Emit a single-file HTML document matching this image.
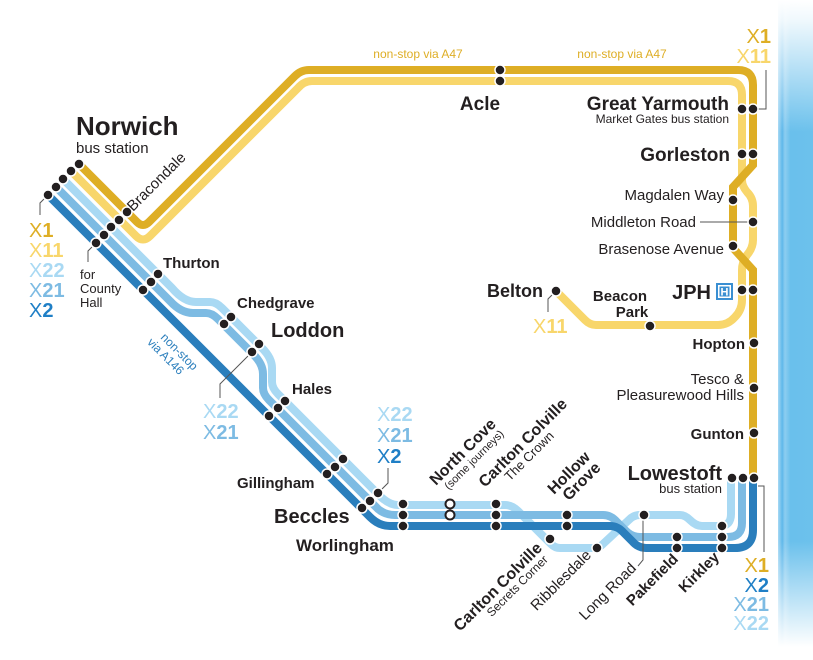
<!DOCTYPE html>
<html><head><meta charset="utf-8"><style>
html,body{margin:0;padding:0;background:#fff;}
svg{display:block;font-family:"Liberation Sans",sans-serif;}
.b{font-weight:bold;fill:#231f20}
.r{fill:#231f20}
</style></head><body>
<svg width="813" height="660" viewBox="0 0 813 660" xmlns="http://www.w3.org/2000/svg">
<defs>
<linearGradient id="sv" x1="0" y1="0" x2="0" y2="1">
<stop offset="0" stop-color="#fff" stop-opacity="1"/>
<stop offset="0.03" stop-color="#fff" stop-opacity="0.9"/>
<stop offset="0.2" stop-color="#fff" stop-opacity="0"/>
<stop offset="0.82" stop-color="#fff" stop-opacity="0"/>
<stop offset="0.98" stop-color="#fff" stop-opacity="1"/>
</linearGradient>
<linearGradient id="sh" x1="0" y1="0" x2="1" y2="0">
<stop offset="0" stop-color="#a8d9f4"/>
<stop offset="0.12" stop-color="#5fb8ea"/>
<stop offset="0.2" stop-color="#8ccdf0"/>
<stop offset="0.35" stop-color="#6ac0ec"/>
<stop offset="1" stop-color="#6cc1ec"/>
</linearGradient>
</defs>
<rect x="778" y="0" width="35" height="660" fill="url(#sh)"/>
<rect x="778" y="0" width="35" height="660" fill="url(#sv)"/>

<g fill="none" stroke-width="8" stroke-linecap="round">
<path stroke="#f8d66b" d="M71,171 L136,236 Q143,243 150,236 L298,88 Q304,81 312,81 L728,81 Q742,81 742,95 L742,180 Q742,186 747,192 Q753,198 753,206 L753,240 Q753,248 747,255 Q742,262 742,270 L742,300 Q742,310 735,317 Q728,325 718,325 L596,325 Q590,325 585,320 L556,291"/>
<path stroke="#deae25" d="M79,164 L137,222 Q143,228 149,222 L295,76 Q301,70 309,70 L738,70 Q753,70 753,85 L753,165 L733,187 L733,248 L753,270 L753,478"/>
<path stroke="#a9d9f3" d="M63,179 L172,288 Q184,302 196,302 L210,302 Q216,302 222,308 L262,348 Q272,358 272,368 L272,382 Q272,388 278,394 L380,496 Q389,505 398,505 L505,505 Q512,505 518,511 L551,544 Q555,548 560,548 L594,548 Q599,548 603,544 L631,518 Q635,515 640,515 L680,515 Q685,515 690,520 Q696,526 702,526 L720,526 Q731,526 731,514 L731,478"/>
<path stroke="#7dbbe3" d="M56,187 L170,301 Q181,313 193,313 L206,313 Q212,313 218,319 L253,354 Q263,364 263,374 L263,388 Q263,394 269,400 L378,509 Q385,515 395,515 L603,515 Q611,515 617,522 L626,531 Q632,537 640,537 L728,537 Q742,537 742,523 L742,478"/>
<path stroke="#2a7ebc" d="M48,195 L370,517 Q379,526 390,526 L610,526 Q618,526 624,533 L632,541 Q638,548 646,548 L735,548 Q753,548 753,530 L753,478"/>
</g>

<g stroke="#555" stroke-width="1" fill="none">
<path d="M758,109 L766,109 L766,70"/>
<path d="M758,486 L764,486 L764,552"/>
<path d="M48,195 L40,203 L40,215"/>
<path d="M96,243 L88,251 L88,262"/>
<path d="M556,291 L548,299 L548,312"/>
<path d="M252,352 L220,384 L220,398"/>
<path d="M378,493 L388,483 L388,468"/>
<path d="M700,222 L748,222"/>
<path d="M643,516 L643,560 L638,566"/>
</g>

<g fill="#231f20" stroke="#fff" stroke-width="1.5">
<circle cx="500" cy="70" r="5"/><circle cx="500" cy="81" r="5"/>
<circle cx="742" cy="109" r="5"/><circle cx="753" cy="109" r="5"/>
<circle cx="742" cy="154" r="5"/><circle cx="753" cy="154" r="5"/>
<circle cx="733" cy="200" r="5"/><circle cx="753" cy="222" r="5"/><circle cx="733" cy="246" r="5"/>
<circle cx="742" cy="290" r="5"/><circle cx="753" cy="290" r="5"/>
<circle cx="754" cy="343" r="5"/><circle cx="754" cy="388" r="5"/><circle cx="754" cy="433" r="5"/>
<circle cx="732" cy="478" r="5"/><circle cx="743" cy="478" r="5"/><circle cx="754" cy="478" r="5"/>
<circle cx="556" cy="291" r="5"/><circle cx="650" cy="326" r="5"/>
<circle cx="79" cy="164" r="5"/><circle cx="71" cy="171" r="5"/><circle cx="63" cy="179" r="5"/><circle cx="56" cy="187" r="5"/><circle cx="48" cy="195" r="5"/>
<circle cx="127" cy="212" r="5"/><circle cx="119" cy="220" r="5"/>
<circle cx="111" cy="227" r="5"/><circle cx="104" cy="235" r="5"/><circle cx="96" cy="243" r="5"/>
<circle cx="158" cy="274" r="5"/><circle cx="151" cy="282" r="5"/><circle cx="143" cy="290" r="5"/>
<circle cx="231" cy="317" r="5"/><circle cx="224" cy="324" r="5"/>
<circle cx="259" cy="344" r="5"/><circle cx="252" cy="352" r="5"/>
<circle cx="285" cy="401" r="5"/><circle cx="278" cy="408" r="5"/><circle cx="269" cy="416" r="5"/>
<circle cx="343" cy="459" r="5"/><circle cx="335" cy="467" r="5"/><circle cx="327" cy="474" r="5"/>
<circle cx="378" cy="493" r="5"/><circle cx="370" cy="501" r="5"/><circle cx="362" cy="508" r="5"/>
<circle cx="403" cy="504" r="5"/><circle cx="403" cy="515" r="5"/><circle cx="403" cy="526" r="5"/>
<circle cx="496" cy="504" r="5"/><circle cx="496" cy="515" r="5"/><circle cx="496" cy="526" r="5"/>
<circle cx="550" cy="539" r="5"/><circle cx="567" cy="515" r="5"/><circle cx="567" cy="526" r="5"/>
<circle cx="597" cy="548" r="5"/><circle cx="644" cy="515" r="5"/>
<circle cx="677" cy="537" r="5"/><circle cx="677" cy="548" r="5"/>
<circle cx="722" cy="526" r="5"/><circle cx="722" cy="537" r="5"/><circle cx="722" cy="548" r="5"/>
</g>
<g fill="#fff" stroke="#231f20" stroke-width="2">
<circle cx="450" cy="504" r="4.5"/><circle cx="450" cy="515" r="4.5"/>
</g>

<text x="418" y="58" font-size="12" fill="#deae25" text-anchor="middle">non-stop via A47</text>
<text x="622" y="58" font-size="12" fill="#deae25" text-anchor="middle">non-stop via A47</text>
<text x="480" y="110" font-size="19" class="b" text-anchor="middle">Acle</text>
<text x="729" y="110" font-size="19" class="b" text-anchor="end">Great Yarmouth</text>
<text x="729" y="123" font-size="12" class="r" text-anchor="end">Market Gates bus station</text>
<text x="730" y="161" font-size="19" class="b" text-anchor="end">Gorleston</text>
<text x="724" y="200" font-size="15" class="r" text-anchor="end">Magdalen Way</text>
<text x="696" y="227" font-size="15" class="r" text-anchor="end">Middleton Road</text>
<text x="724" y="254" font-size="15" class="r" text-anchor="end">Brasenose Avenue</text>
<text x="711" y="299" font-size="20" class="b" text-anchor="end">JPH</text>
<rect x="716" y="283" width="17" height="17" fill="#3a8fd2"/>
<rect x="718" y="285" width="13" height="13" fill="#fff"/>
<rect x="719.5" y="286.5" width="10" height="10" fill="#3a8fd2"/>
<text x="724.5" y="295.5" font-size="11" font-weight="bold" fill="#fff" text-anchor="middle">H</text>
<text x="543" y="297" font-size="18" class="b" text-anchor="end">Belton</text>
<text x="620" y="301" font-size="15" class="b" text-anchor="middle">Beacon</text>
<text x="632" y="317" font-size="15" class="b" text-anchor="middle">Park</text>
<text x="745" y="349" font-size="15" class="b" text-anchor="end">Hopton</text>
<text x="744" y="384" font-size="15" class="r" text-anchor="end">Tesco &amp;</text>
<text x="744" y="400" font-size="15" class="r" text-anchor="end">Pleasurewood Hills</text>
<text x="744" y="439" font-size="15" class="b" text-anchor="end">Gunton</text>
<text x="722" y="480" font-size="20" class="b" text-anchor="end">Lowestoft</text>
<text x="722" y="493" font-size="13" class="r" text-anchor="end">bus station</text>

<text x="76" y="135" font-size="26" class="b">Norwich</text>
<text x="76" y="153" font-size="15" class="r">bus station</text>
<text x="80" y="279" font-size="13" class="r">for</text>
<text x="80" y="293" font-size="13" class="r">County</text>
<text x="80" y="307" font-size="13" class="r">Hall</text>
<text x="163" y="268" font-size="15" class="b">Thurton</text>
<text x="237" y="308" font-size="15" class="b">Chedgrave</text>
<text x="271" y="337" font-size="20" class="b">Loddon</text>
<text x="292" y="394" font-size="15" class="b">Hales</text>
<text x="237" y="488" font-size="15" class="b">Gillingham</text>
<text x="274" y="523" font-size="20" class="b">Beccles</text>
<text x="296" y="551" font-size="17" class="b">Worlingham</text>

<g transform="translate(133,212) rotate(-45)"><text font-size="15" class="r">Bracondale</text></g>
<g transform="translate(160,338) rotate(45)" fill="#2a7ebc" font-size="12"><text>non-stop</text><text x="-6" y="13">via A146</text></g>
<g transform="translate(436,486) rotate(-45)"><text font-size="16" class="b">North Cove</text><text x="6" y="12" font-size="11" class="r">(some journeys)</text></g>
<g transform="translate(485,488) rotate(-45)"><text font-size="16" class="b">Carlton Colville</text><text x="22" y="13" font-size="13" class="r">The Crown</text></g>
<g transform="translate(554,495) rotate(-45)"><text font-size="16" class="b">Hollow</text><text x="6" y="15" font-size="16" class="b">Grove</text></g>
<g transform="translate(543,549) rotate(-45)"><text font-size="16" class="b" text-anchor="end">Carlton Colville</text><text x="-4" y="12" font-size="12" class="r" text-anchor="end">Secrets Corner</text></g>
<g transform="translate(592,556) rotate(-45)"><text font-size="15" class="r" text-anchor="end">Ribblesdale</text></g>
<g transform="translate(637,569) rotate(-45)"><text font-size="15" class="r" text-anchor="end">Long Road</text></g>
<g transform="translate(679,560) rotate(-45)"><text font-size="15" class="b" text-anchor="end">Pakefield</text></g>
<g transform="translate(720,558) rotate(-45)"><text font-size="15" class="b" text-anchor="end">Kirkley</text></g>

<g font-size="20">
<text x="29" y="237" fill="#deae25">X<tspan font-weight="bold">1</tspan></text>
<text x="29" y="257" fill="#f8d66b">X<tspan font-weight="bold">11</tspan></text>
<text x="29" y="277" fill="#a9d9f3">X<tspan font-weight="bold">22</tspan></text>
<text x="29" y="297" fill="#7dbbe3">X<tspan font-weight="bold">21</tspan></text>
<text x="29" y="317" fill="#1f7fc6">X<tspan font-weight="bold">2</tspan></text>

<text x="203" y="418" fill="#a9d9f3">X<tspan font-weight="bold">22</tspan></text>
<text x="203" y="439" fill="#7dbbe3">X<tspan font-weight="bold">21</tspan></text>

<text x="377" y="421" fill="#a9d9f3">X<tspan font-weight="bold">22</tspan></text>
<text x="377" y="442" fill="#7dbbe3">X<tspan font-weight="bold">21</tspan></text>
<text x="377" y="463" fill="#1f7fc6">X<tspan font-weight="bold">2</tspan></text>

<text x="533" y="333" fill="#f8d66b">X<tspan font-weight="bold">11</tspan></text>

<text x="771" y="43" fill="#deae25" text-anchor="end">X<tspan font-weight="bold">1</tspan></text>
<text x="771" y="63" fill="#f8d66b" text-anchor="end">X<tspan font-weight="bold">11</tspan></text>

<text x="769" y="572" fill="#deae25" text-anchor="end">X<tspan font-weight="bold">1</tspan></text>
<text x="769" y="592" fill="#1f7fc6" text-anchor="end">X<tspan font-weight="bold">2</tspan></text>
<text x="769" y="611" fill="#7dbbe3" text-anchor="end">X<tspan font-weight="bold">21</tspan></text>
<text x="769" y="630" fill="#a9d9f3" text-anchor="end">X<tspan font-weight="bold">22</tspan></text>
</g>
</svg>
</body></html>
